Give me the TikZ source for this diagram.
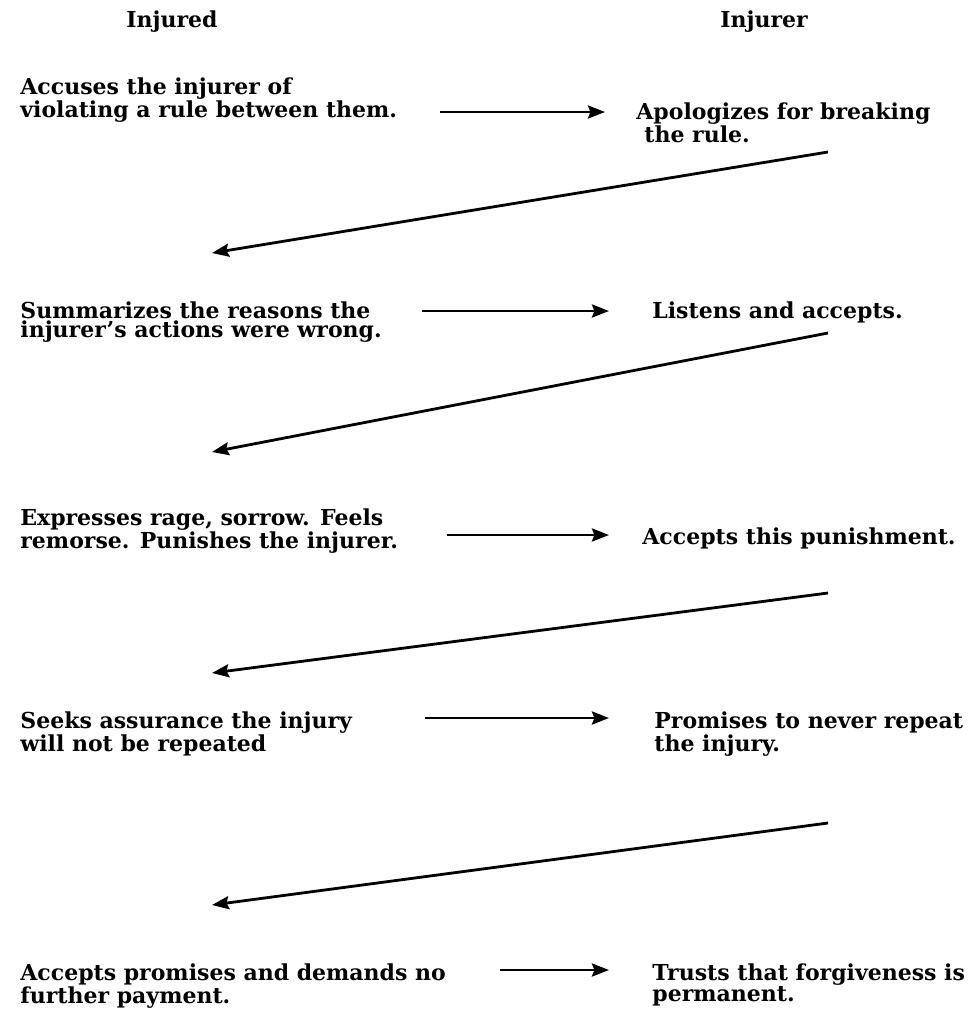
\documentclass[tikz,border=0pt]{standalone}
\usepackage{fontspec}
\setmainfont{DejaVu Serif}
\usepackage{tikz}
\usetikzlibrary{arrows.meta}
\tikzset{>={Stealth[length=8.5pt,width=6.5pt,inset=1.2pt]}}
\tikzset{
  txt/.style={anchor=north west, align=left, inner sep=0pt, font=\bfseries\fontsize{11}{9.75}\selectfont},
  head/.style={anchor=base, inner sep=0pt, font=\bfseries\fontsize{11}{9.75}\selectfont},
  pass/.style={->, line width=1.4pt}
}

\begin{document}
\begin{tikzpicture}[x=0.5pt,y=-0.5pt]
  \useasboundingbox (0,0) rectangle (970,1018);

  \node[head] (injured) at (172,27) {Injured};
  \node[head] (injurer) at (764,27) {Injurer};

  % injured side
  \node[txt] (accuse) at (20,77) {Accuses the injurer of\\violating a rule between them.};
  \node[txt] (summ) at (20,301) {Summarizes the reasons the\\injurer's actions were wrong.};
  \node[txt] (rage) at (20,508) {Expresses rage, sorrow. Feels\\remorse. Punishes the injurer.};
  \node[txt] (seek) at (20,711) {Seeks assurance the injury\\will not be repeated};
  \node[txt] (final) at (20,963) {Accepts promises and demands no\\further payment.};

  % injurer side
  \node[txt] (apol) at (636,102) {Apologizes for breaking\\\hspace{4pt}the rule.};
  \node[txt] (listen) at (652,301) {Listens and accepts.};
  \node[txt] (punish) at (642,527) {Accepts this punishment.};
  \node[txt] (promise) at (654,711) {Promises to never repeat\\the injury.};
  \node[txt] (trust) at (652,963) {Trusts that forgiveness is\\permanent.};

  \coordinate (h1a) at (440,112); \coordinate (h1b) at (605,112);
  \coordinate (h2a) at (422,311); \coordinate (h2b) at (609,311);
  \coordinate (h3a) at (447,535); \coordinate (h3b) at (609,535);
  \coordinate (h4a) at (425,718); \coordinate (h4b) at (609,718);
  \coordinate (h5a) at (500,970); \coordinate (h5b) at (609,970);

  \coordinate (d1a) at (828,152); \coordinate (d1b) at (212,253);
  \coordinate (d2a) at (828,333); \coordinate (d2b) at (212,452);
  \coordinate (d3a) at (828,593); \coordinate (d3b) at (212,673);
  \coordinate (d4a) at (828,823); \coordinate (d4b) at (212,905);

  \draw[pass] (h1a) -- (h1b);
  \draw[pass] (h2a) -- (h2b);
  \draw[pass] (h3a) -- (h3b);
  \draw[pass] (h4a) -- (h4b);
  \draw[pass] (h5a) -- (h5b);

  \draw[pass] (d1a) -- (d1b);
  \draw[pass] (d2a) -- (d2b);
  \draw[pass] (d3a) -- (d3b);
  \draw[pass] (d4a) -- (d4b);
\end{tikzpicture}
\end{document}
